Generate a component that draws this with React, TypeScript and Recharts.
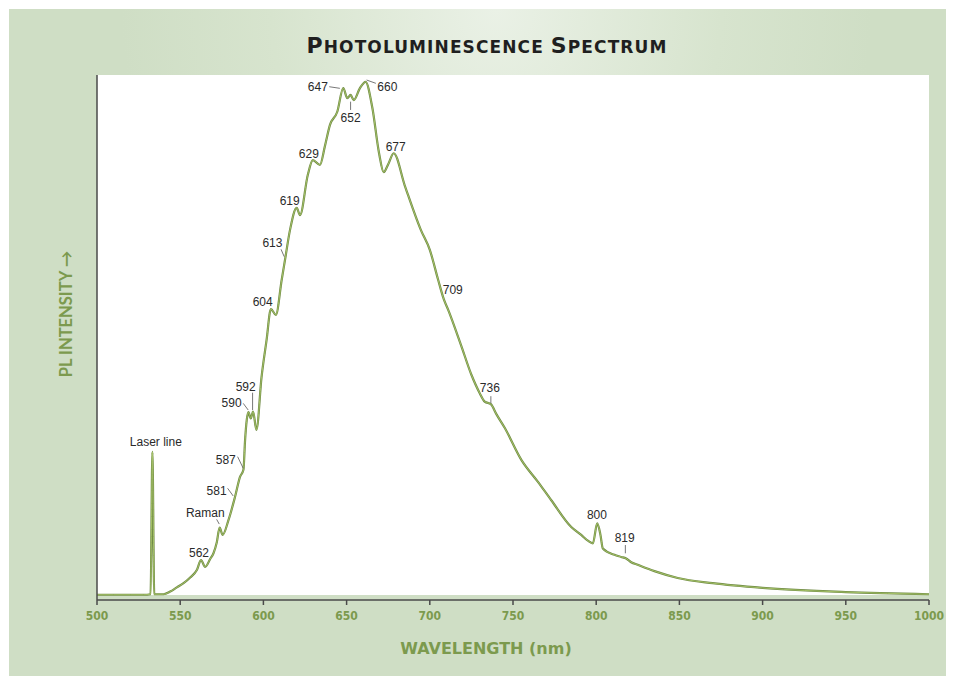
import { Line, LineChart, ReferenceDot, XAxis, YAxis } from "recharts";

// wavelength (nm) and PL intensity (% of the axis height)
const wavelength = [
  500, 510, 520, 528, 532.2, 533.3, 534.4, 540, 544, 548, 552, 556, 560, 562.5,
  565, 568, 570, 572, 573.7, 575.5, 579, 583, 586, 588, 589, 590, 591, 592.4,
  593.8, 595.8, 598.9, 601.9, 604.5, 607.5, 611, 613, 616, 620, 622, 626.7,
  629.7, 634, 637, 640, 644.4, 648, 650.4, 652.4, 654.3, 658, 661.4, 665.5,
  669.4, 672.3, 675, 678.3, 685, 694.6, 700, 705, 708.4, 711, 718.7, 725, 730,
  733, 736.7, 740, 745, 755, 765, 773, 785, 791, 795, 798, 800.6, 802.5, 804,
  811, 815, 818, 821, 825, 835, 849, 870, 900, 950, 1000,
];
const intensity = [
  1.0, 1.0, 1.0, 1.0, 1.1, 28.2, 1.1, 1.1, 1.6, 2.4, 3.2, 4.3, 5.7, 7.6, 6.3,
  7.8, 8.9, 11, 13.8, 12.4, 15.2, 19.7, 23.5, 24.8, 30.5, 34.3, 35.8, 34.6,
  35.9, 32.4, 42.5, 49.5, 55.4, 54.3, 61, 64.8, 70.5, 74.7, 73.3, 81, 83.8,
  82.9, 86.5, 90.5, 93, 97.5, 95.6, 96.2, 95.2, 97.5, 98.7, 93.7, 85.3, 81.5,
  83, 85.1, 78.9, 70.5, 66.7, 61, 57.3, 55.3, 48.6, 42.9, 39.4, 37.8, 37.3,
  35.4, 32.8, 26.7, 22.5, 19, 13.9, 12.4, 11.3, 10.8, 14.6, 12.5, 9.8, 8.6,
  8.2, 7.9, 7.2, 6.7, 5.5, 4.2, 3.2, 2.3, 1.5, 1.1,
];
const xTicks = [500, 550, 600, 650, 700, 750, 800, 850, 900, 950, 1000];

const peakWavelengths = [
  533.3, 562.5, 573.7, 583, 588, 591, 593.8, 604.5, 613, 620, 629.7, 648,
  652.4, 661.4, 678.3, 708.4, 736.7, 800.6, 818,
];
const peakLabels = [
  "Laser line", "562", "Raman", "581", "587", "590", "592", "604", "613",
  "619", "629", "647", "652", "660", "677", "709", "736", "800", "819",
];

const spectrum = wavelength.map((wl, i) => ({ wl, pl: intensity[i] }));

// text offset + leader line relative to the marked point, in px
const labelLayout: Record<
  string,
  { dx: number; dy: number; lead?: [number, number, number, number] }
> = {
  "Laser line": { dx: 3.4, dy: -6 },
  "562": { dx: -2, dy: -3.3 },
  Raman: { dx: -14.4, dy: -10.8, lead: [-3, -8.2, -0.4, -3.5] },
  "581": { dx: -18.5, dy: -1.6, lead: [-7.5, -8.3, -1.9, -0.6] },
  "587": { dx: -17.7, dy: -5.8, lead: [-5.8, -13.1, -0.2, -1.5] },
  "590": { dx: -16.8, dy: -5.3, lead: [-5.2, -8.7, -0.2, -2] },
  "592": { dx: -7.4, dy: -20.5, lead: [-0.5, -18.8, -0.5, -1.5] },
  "604": { dx: -8.2, dy: -3 },
  "613": { dx: -12.6, dy: -13.1, lead: [-4, -10.5, -0.8, -3.1] },
  "619": { dx: -7, dy: -3 },
  "629": { dx: -4, dy: -2 },
  "647": { dx: -25.4, dy: 3, lead: [-14, -1.4, -3.4, 0.2] },
  "652": { dx: 0, dy: 26.7, lead: [0, 6.7, 0, 15] },
  "660": { dx: 21.8, dy: 9.2, lead: [1, -1.8, 10.3, 1.5] },
  "677": { dx: 2, dy: -2 },
  "709": { dx: 9, dy: -5 },
  "736": { dx: -1, dy: -12, lead: [0, -8, 0, -1] },
  "800": { dx: -0.3, dy: -4.1 },
  "819": { dx: -1.5, dy: -16.8, lead: [-0.8, -13.5, -0.8, -5.2] },
};

const green = "#7c9a4e";

const PeakMark = (label: string) => (props: any) => {
  const { cx, cy } = props;
  const l = labelLayout[label];
  return (
    <g>
      {l.lead && (
        <line
          x1={cx + l.lead[0]}
          y1={cy + l.lead[1]}
          x2={cx + l.lead[2]}
          y2={cy + l.lead[3]}
          stroke="#555"
          strokeWidth={0.8}
        />
      )}
      <text
        x={cx + l.dx}
        y={cy + l.dy}
        textAnchor="middle"
        fontFamily="'Liberation Sans', Arial, sans-serif"
        fontSize={12}
        fill="#2a2a2a"
      >
        {label}
      </text>
    </g>
  );
};

const bigCap = { fontSize: 22 };
const smallCap = { fontSize: 17 };

export default function App() {
  return (
    <div
      style={{
        position: "absolute",
        left: 0,
        top: 0,
        width: 954,
        height: 684,
        background: "#fff",
      }}
    >
      <div
        style={{
          position: "absolute",
          left: 9,
          top: 9,
          width: 937,
          height: 667,
          background:
            "radial-gradient(ellipse 40% 60% at 52% 0%, #eaf1e6 0%, #d7e4ce 60%, #cfdec5 100%)",
        }}
      />
      <div
        style={{
          position: "absolute",
          left: 97,
          top: 75,
          width: 832,
          height: 520,
          background: "#fff",
        }}
      />
      <div
        style={{
          position: "absolute",
          left: 0,
          top: 33,
          width: 974,
          textAlign: "center",
          fontFamily: "'DejaVu Sans', sans-serif",
          fontWeight: 700,
          lineHeight: "normal",
          color: "#1f1f1f",
          letterSpacing: 1.1,
        }}
      >
        <span style={bigCap}>P</span>
        <span style={smallCap}>HOTOLUMINESCENCE </span>
        <span style={bigCap}>S</span>
        <span style={smallCap}>PECTRUM</span>
      </div>
      <div
        style={{
          position: "absolute",
          left: 66,
          top: 314,
          transform: "translate(-50%, -50%) rotate(-90deg)",
          whiteSpace: "nowrap",
          fontFamily: "Lato, sans-serif",
          fontWeight: 700,
          fontSize: 16.5,
          color: green,
        }}
      >
        PL INTENSITY →
      </div>
      <div
        style={{
          position: "absolute",
          left: 0,
          top: 639,
          width: 972,
          textAlign: "center",
          fontFamily: "'DejaVu Sans', sans-serif",
          fontWeight: 700,
          fontSize: 16,
          lineHeight: "normal",
          color: green,
        }}
      >
        WAVELENGTH (nm)
      </div>
      <div style={{ position: "absolute", left: 0, top: 0 }}>
        <LineChart
          width={954}
          height={684}
          data={spectrum}
          margin={{ top: 75, right: 25, left: 37, bottom: 54 }}
        >
          <XAxis
            dataKey="wl"
            type="number"
            domain={[500, 1000]}
            ticks={xTicks}
            stroke="#4a4a4a"
            tickSize={5}
            tickMargin={6}
            axisLine={{ stroke: "#4a4a4a", strokeWidth: 1.5 }}
            tickLine={{ stroke: "#4a4a4a", strokeWidth: 1.5 }}
            tick={{
              fill: green,
              fontFamily: "'DejaVu Sans Condensed', sans-serif",
              fontWeight: 700,
              fontSize: 12,
            }}
          />
          <YAxis
            type="number"
            domain={[0, 100]}
            width={60}
            tick={false}
            tickLine={false}
            axisLine={{ stroke: "#4a4a4a", strokeWidth: 1.5 }}
          />
          <Line
            type="monotone"
            dataKey="pl"
            stroke="#6f8a45"
            strokeWidth={2.2}
            dot={false}
            isAnimationActive={false}
          />
          <Line
            type="monotone"
            dataKey="pl"
            stroke="#a9c66a"
            strokeWidth={0.9}
            dot={false}
            isAnimationActive={false}
          />
          {peakWavelengths.map((wl, i) => (
            <ReferenceDot
              key={peakLabels[i]}
              x={wl}
              y={intensity[wavelength.indexOf(wl)]}
              r={0}
              shape={PeakMark(peakLabels[i])}
            />
          ))}
        </LineChart>
      </div>
    </div>
  );
}
